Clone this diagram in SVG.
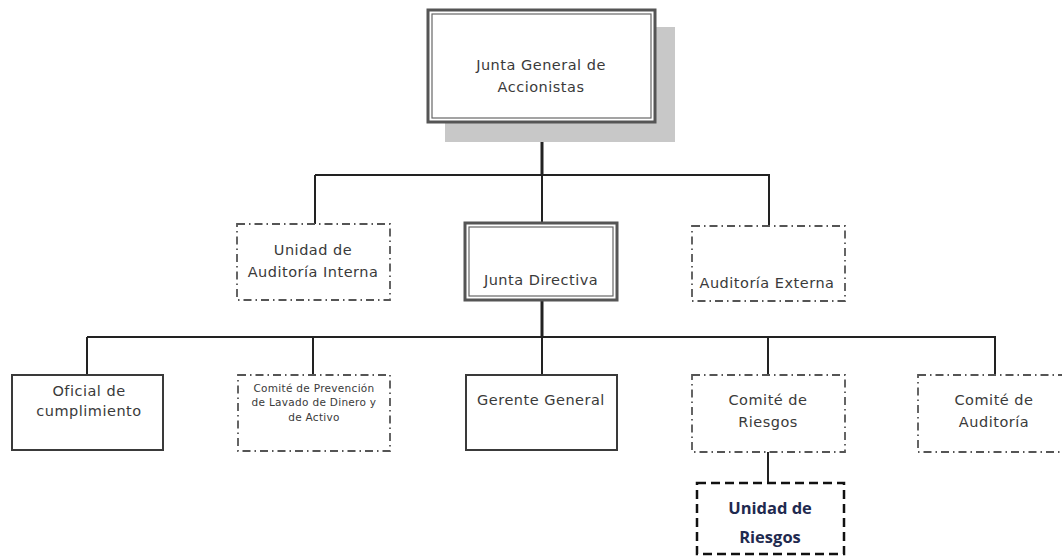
<svg xmlns="http://www.w3.org/2000/svg" width="1062" height="558" viewBox="0 0 1062 558">
<style>
.t{font-family:"DejaVu Sans","Liberation Sans",sans-serif;font-size:14.5px;letter-spacing:0.5px;fill:#3a3a3a;text-anchor:middle}
.s{font-size:10.5px;letter-spacing:0.3px}
.solid{fill:#fff;stroke:#3a3a3a;stroke-width:2}
.dd{fill:#fff;stroke:#555;stroke-width:1.8;stroke-dasharray:8 4 1.5 4}
.dbl-o{fill:#fff;stroke:#555;stroke-width:3}
.dbl-i{fill:none;stroke:#666;stroke-width:1.2}
.c{stroke:#222;stroke-width:2;fill:none}
.ur{fill:#fff;stroke:#111;stroke-width:2.5;stroke-dasharray:9 5}
.b{font-family:"Open Sans","Liberation Sans",sans-serif;font-size:16.5px;font-weight:bold;fill:#1f2a4f;text-anchor:middle}
</style>
<rect width="1062" height="558" fill="#fff"/>
<g id="connectors">
<line class="c" x1="542" y1="122" x2="542" y2="175" style="stroke-width:3"/>
<line class="c" x1="315" y1="175" x2="770" y2="175"/>
<line class="c" x1="315" y1="175" x2="315" y2="224"/>
<line class="c" x1="542" y1="175" x2="542" y2="223"/>
<line class="c" x1="769" y1="175" x2="769" y2="226"/>
<line class="c" x1="542" y1="300" x2="542" y2="337" style="stroke-width:3"/>
<line class="c" x1="87" y1="337" x2="996" y2="337"/>
<line class="c" x1="87" y1="337" x2="87" y2="375"/>
<line class="c" x1="313" y1="337" x2="313" y2="375"/>
<line class="c" x1="542" y1="337" x2="542" y2="375"/>
<line class="c" x1="768" y1="337" x2="768" y2="375"/>
<line class="c" x1="995" y1="337" x2="995" y2="375"/>
<line class="c" x1="768" y1="452" x2="768" y2="483"/>
</g>
<g id="junta-general">
<rect x="445" y="27" width="230" height="115" fill="#c8c8c8"/>
<rect class="dbl-o" x="428" y="10" width="227" height="112"/>
<rect class="dbl-i" x="432" y="14" width="219" height="104"/>
<text class="t" x="541" y="70">Junta General de</text>
<text class="t" x="541" y="92">Accionistas</text>
</g>
<g id="unidad-auditoria-interna">
<rect class="dd" x="237" y="224" width="153" height="76"/>
<text class="t" x="313" y="255">Unidad de</text>
<text class="t" x="313" y="277">Auditoría Interna</text>
</g>
<g id="junta-directiva">
<rect class="dbl-o" x="465" y="223" width="152" height="77"/>
<rect class="dbl-i" x="469" y="227" width="144" height="69"/>
<text class="t" x="541" y="285">Junta Directiva</text>
</g>
<g id="auditoria-externa">
<rect class="dd" x="692" y="226" width="153" height="75"/>
<text class="t" x="767" y="288">Auditoría Externa</text>
</g>
<g id="oficial">
<rect class="solid" x="12" y="375" width="151" height="75"/>
<text class="t" x="89" y="396">Oficial de</text>
<text class="t" x="89" y="416">cumplimiento</text>
</g>
<g id="comite-prevencion">
<rect class="dd" x="238" y="375" width="152" height="76"/>
<text class="t s" x="314" y="392">Comité de Prevención</text>
<text class="t s" x="314" y="406">de Lavado de Dinero y</text>
<text class="t s" x="314" y="421">de Activo</text>
</g>
<g id="gerente-general">
<rect class="solid" x="466" y="375" width="151" height="75"/>
<text class="t" x="541" y="405">Gerente General</text>
</g>
<g id="comite-riesgos">
<rect class="dd" x="692" y="375" width="153" height="77"/>
<text class="t" x="768" y="405">Comité de</text>
<text class="t" x="768" y="427">Riesgos</text>
</g>
<g id="comite-auditoria">
<rect class="dd" x="918" y="375" width="152" height="77"/>
<text class="t" x="994" y="405">Comité de</text>
<text class="t" x="994" y="427">Auditoría</text>
</g>
<g id="unidad-riesgos">
<rect class="ur" x="697" y="483" width="147" height="71"/>
<text class="b" x="770" y="514">Unidad de</text>
<text class="b" x="770" y="543">Riesgos</text>
</g>
</svg>
